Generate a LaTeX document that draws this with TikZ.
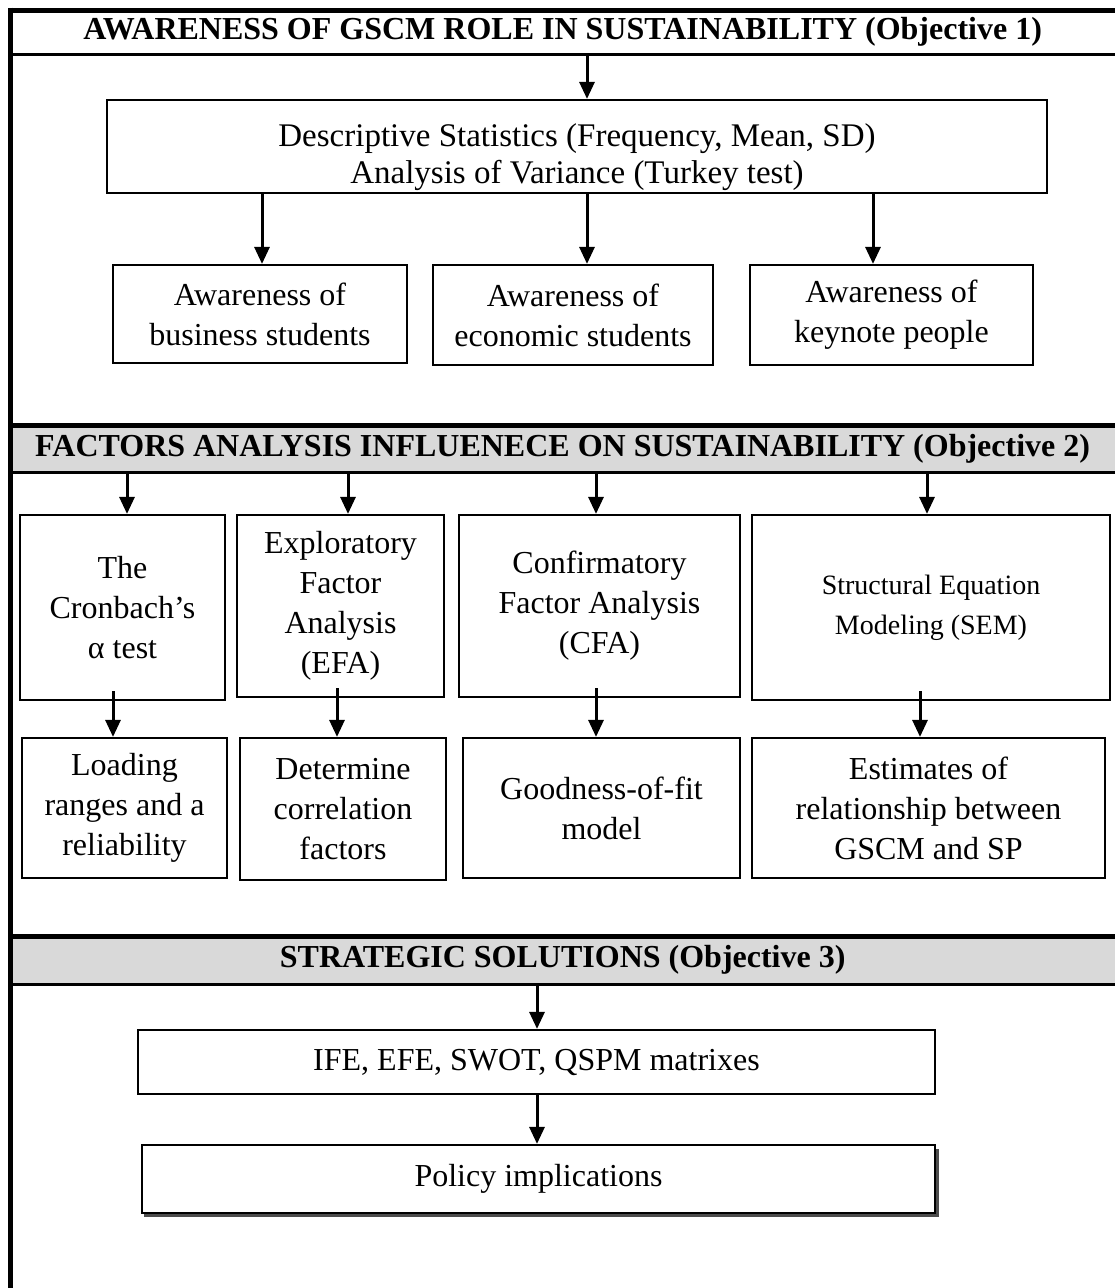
\documentclass[tikz,border=0pt]{standalone}
\usepackage{fontspec}
\setmainfont{Liberation Serif}
\usetikzlibrary{arrows.meta}
\definecolor{band}{RGB}{217,217,217}
\begin{document}
\begin{tikzpicture}[x=1pt,y=-1pt,
  box/.style={draw, line width=2.2pt, align=center, inner sep=0pt, font=\fontsize{32}{40}\selectfont},
  hdr/.style={inner sep=0pt, font=\bfseries\fontsize{32}{38}\selectfont},
  arr/.style={line width=3pt, -{Triangle[length=17pt,width=15pt]}},
  thick line/.style={line width=5pt},
  thin line/.style={line width=2.5pt}]
\useasboundingbox (0,0) rectangle (1115,1288);

% headers
\node[hdr, minimum width=1105, minimum height=44, anchor=north west] (h1) at (10,10)
  {AWARENESS OF GSCM ROLE IN SUSTAINABILITY (Objective 1)};
\node[hdr, fill=band, minimum width=1105, minimum height=47, anchor=north west] (h2) at (10,425)
  {FACTORS ANALYSIS INFLUENECE ON SUSTAINABILITY (Objective 2)};
\node[hdr, fill=band, minimum width=1105, minimum height=48, anchor=north west] (h3) at (10,936)
  {STRATEGIC SOLUTIONS (Objective 3)};
\foreach \h in {h1,h2,h3}{
  \draw[thick line] (\h.north west) -- (\h.north east);
  \draw[thin line] (\h.south west) -- (\h.south east);
}
\coordinate (bl) at (10,1288);
\draw[thick line] ([yshift=2.5pt]h1.north west) -- (bl);

% section 1
\node[box, minimum width=940, minimum height=93] (top) at (577,146.5) {};
\node[align=center, inner sep=0pt, font=\fontsize{33}{37}\selectfont] (topt) at ([yshift=-11pt]top.center)
  {Descriptive Statistics (Frequency, Mean, SD)\\Analysis of Variance (Turkey test)};
\node[box, minimum width=294, minimum height=98] (b1) at (260,314) {Awareness of\\business students};
\node[box, minimum width=280, minimum height=100] (b2) at (573,315) {Awareness of\\economic students};
\node[box, minimum width=283, minimum height=100] (b3) at (891.5,315) {Awareness of\\keynote people};

\coordinate (x0) at (587,0);
\coordinate (x1) at (262,0);
\coordinate (x2) at (587,0);
\coordinate (x3) at (873,0);
\draw[arr] (h1.south -| x0) -- (top.north -| x0);
\draw[arr] (top.south -| x1) -- (b1.north -| x1);
\draw[arr] (top.south -| x2) -- (b2.north -| x2);
\draw[arr] (top.south -| x3) -- (b3.north -| x3);

% section 2
\node[box, minimum width=205, minimum height=185] (a1) at (122.5,607.5) {The\\Cronbach’s\\α test};
\node[box, minimum width=207, minimum height=182] (a2) at (340.5,606) {Exploratory\\Factor\\Analysis\\(EFA)};
\node[box, minimum width=281, minimum height=182] (a3) at (599.5,606) {Confirmatory\\Factor Analysis\\(CFA)};
\node[box, minimum width=358, minimum height=185, font=\fontsize{28}{40}\selectfont] (a4) at (931,607.5) {Structural Equation\\Modeling (SEM)};

\node[box, minimum width=205, minimum height=140] (c1) at (124.5,808) {Loading\\ranges and a\\reliability};
\node[box, minimum width=206, minimum height=142] (c2) at (343,809) {Determine\\correlation\\factors};
\node[box, minimum width=277, minimum height=140] (c3) at (601.5,808) {Goodness-of-fit\\model};
\node[box, minimum width=353, minimum height=140] (c4) at (928.5,808) {Estimates of\\relationship between\\GSCM and SP};

\coordinate (y1) at (127,0);
\coordinate (y2) at (348,0);
\coordinate (y3) at (596,0);
\coordinate (y4) at (927,0);
\draw[arr] (h2.south -| y1) -- (a1.north -| y1);
\draw[arr] (h2.south -| y2) -- (a2.north -| y2);
\draw[arr] (h2.south -| y3) -- (a3.north -| y3);
\draw[arr] (h2.south -| y4) -- (a4.north -| y4);

\coordinate (z1) at (113,0);
\coordinate (z2) at (337,0);
\coordinate (z3) at (596,0);
\coordinate (z4) at (920,0);
\draw[arr] ([yshift=10pt]a1.south -| z1) -- (c1.north -| z1);
\draw[arr] ([yshift=10pt]a2.south -| z2) -- (c2.north -| z2);
\draw[arr] ([yshift=10pt]a3.south -| z3) -- (c3.north -| z3);
\draw[arr] ([yshift=10pt]a4.south -| z4) -- (c4.north -| z4);

% section 3
\node[box, minimum width=797, minimum height=64] (ife) at (536.5,1062) {IFE, EFE, SWOT, QSPM matrixes};
\fill[black!70] (144,1149) rectangle (939,1217);
\node[box, fill=white, minimum width=793, minimum height=68] (pol) at (538.5,1179) {Policy implications};
\coordinate (w) at (537,0);
\draw[arr] (h3.south -| w) -- (ife.north -| w);
\draw[arr] (ife.south -| w) -- (pol.north -| w);
\end{tikzpicture}
\end{document}
